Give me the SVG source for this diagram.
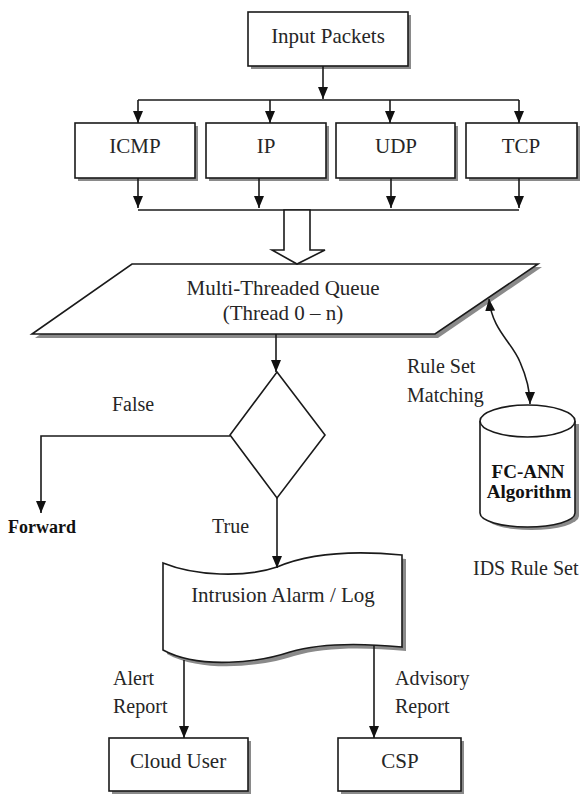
<svg xmlns="http://www.w3.org/2000/svg" width="584" height="794" viewBox="0 0 584 794">
<style>
  .shape { fill: #ffffff; stroke: #1a1a1a; stroke-width: 1.6; }
  .shadow { fill: #8a8a8a; stroke: none; }
  .t { font-family: "Liberation Serif", "Times New Roman", serif; font-size: 21px; fill: #262626; }
  .s { font-size: 20px; }
  .b { font-weight: bold; font-size: 19px; fill: #111; }
  .ctr { text-anchor: middle; }
  .line { fill: none; stroke: #1a1a1a; stroke-width: 1.6; }
  .arr { marker-end: url(#ah); }
</style>
<defs>
  <marker id="ah" viewBox="0 0 12 12" refX="12" refY="6" markerWidth="12" markerHeight="12" markerUnits="userSpaceOnUse" orient="auto-start-reverse">
    <path d="M0,1 L12,6 L0,11 Z" fill="#111"/>
  </marker>
</defs>
<rect width="584" height="794" fill="#ffffff"/>

<g id="input-packets">
  <rect class="shadow" x="251" y="15" width="160" height="54"/>
  <rect class="shape" x="248" y="12" width="160" height="54"/>
  <text class="t ctr" x="328" y="43">Input Packets</text>
</g>
<g id="icmp">
  <rect class="shadow" x="78" y="126" width="120" height="55"/>
  <rect class="shape" x="75" y="123" width="120" height="55"/>
  <text class="t ctr" x="135" y="153">ICMP</text>
</g>
<g id="ip">
  <rect class="shadow" x="209" y="126" width="120" height="55"/>
  <rect class="shape" x="206" y="123" width="120" height="55"/>
  <text class="t ctr" x="266" y="153">IP</text>
</g>
<g id="udp">
  <rect class="shadow" x="339" y="126" width="119" height="55"/>
  <rect class="shape" x="336" y="123" width="119" height="55"/>
  <text class="t ctr" x="396" y="153">UDP</text>
</g>
<g id="tcp">
  <rect class="shadow" x="469" y="126" width="111" height="55"/>
  <rect class="shape" x="466" y="123" width="111" height="55"/>
  <text class="t ctr" x="521" y="153">TCP</text>
</g>

<g id="queue">
  <polygon class="shadow" points="135,267 542,267 438,338 35,338"/>
  <polygon class="shape" points="132,264 538,264 435,334 32,334"/>
  <text class="t ctr" x="283" y="295">Multi-Threaded Queue</text>
  <text class="t ctr" x="283" y="320">(Thread 0 – n)</text>
</g>

<g id="decision">
  <polygon class="shape" points="277,372 325,435 277,498 230,435"/>
</g>

<g id="fc-ann">
  <path class="shadow" d="M484,424 V516 A47.5,14 0 0 0 579,516 V424 Z"/>
  <path class="shape" d="M480,421 V513 A47.5,14 0 0 0 575,513 V421"/>
  <ellipse class="shape" cx="527.5" cy="421" rx="47.5" ry="16"/>
  <text class="t b ctr" x="528" y="478">FC-ANN</text>
  <text class="t b ctr" x="529" y="498">Algorithm</text>
</g>
<g id="ids-rule-set">
  <text class="t s" x="473" y="575">IDS Rule Set</text>
</g>

<g id="intrusion-log">
  <path class="shadow" d="M167,567 C199,580 249,582 281,571 C314,557 354,554 406,559 V651 C364,647 324,647 294,656 C264,666 204,674 167,654 Z"/>
  <path class="shape" d="M163,563 C195,576 245,578 277,567 C310,553 350,550 402,555 V647 C360,643 320,643 290,652 C260,662 200,670 163,650 Z"/>
  <text class="t ctr" x="283" y="602">Intrusion Alarm / Log</text>
</g>

<g id="cloud-user">
  <rect class="shadow" x="112" y="741" width="139" height="54"/>
  <rect class="shape" x="109" y="738" width="139" height="53"/>
  <text class="t ctr" x="178" y="768">Cloud User</text>
</g>
<g id="csp">
  <rect class="shadow" x="341" y="741" width="123" height="54"/>
  <rect class="shape" x="338" y="738" width="123" height="53"/>
  <text class="t ctr" x="400" y="768">CSP</text>
</g>

<g id="forward">
  <text class="t b" style="font-size:18px" x="8" y="533">Forward</text>
</g>

<g id="connectors">
  <line class="line arr" x1="323" y1="66" x2="323" y2="99"/>
  <line class="line" x1="138" y1="100" x2="519" y2="100"/>
  <line class="line arr" x1="138" y1="100" x2="138" y2="123"/>
  <line class="line arr" x1="270" y1="100" x2="270" y2="123"/>
  <line class="line arr" x1="390" y1="100" x2="390" y2="123"/>
  <line class="line arr" x1="519" y1="100" x2="519" y2="123"/>

  <line class="line arr" x1="138" y1="178" x2="138" y2="208"/>
  <line class="line arr" x1="259" y1="178" x2="259" y2="208"/>
  <line class="line arr" x1="391" y1="178" x2="391" y2="208"/>
  <line class="line arr" x1="519" y1="178" x2="519" y2="208"/>
  <line class="line" x1="138" y1="210" x2="519" y2="210"/>

  <polygon class="shape" points="284,210 310,210 310,250 325,250 297,264 272,250 284,250"/>

  <line class="line arr" x1="276" y1="334" x2="276" y2="372"/>
  <path class="line arr" d="M230,436 H41 V513"/>
  <line class="line arr" x1="277" y1="498" x2="277" y2="568"/>

  <path class="line" style="marker-start:url(#ah);marker-end:url(#ah)" d="M489,299 C492,330 512,342 520,362 C527,378 530,390 530,404"/>

  <line class="line arr" x1="184" y1="660" x2="184" y2="738"/>
  <line class="line arr" x1="374" y1="645" x2="374" y2="738"/>

  <text class="t s" x="112" y="411">False</text>
  <text class="t s" x="212" y="533">True</text>
  <text class="t s" x="407" y="373">Rule Set</text>
  <text class="t s" x="407" y="402">Matching</text>
  <text class="t s" x="113" y="685">Alert</text>
  <text class="t s" x="113" y="713">Report</text>
  <text class="t s" x="395" y="685">Advisory</text>
  <text class="t s" x="395" y="713">Report</text>
</g>
</svg>
